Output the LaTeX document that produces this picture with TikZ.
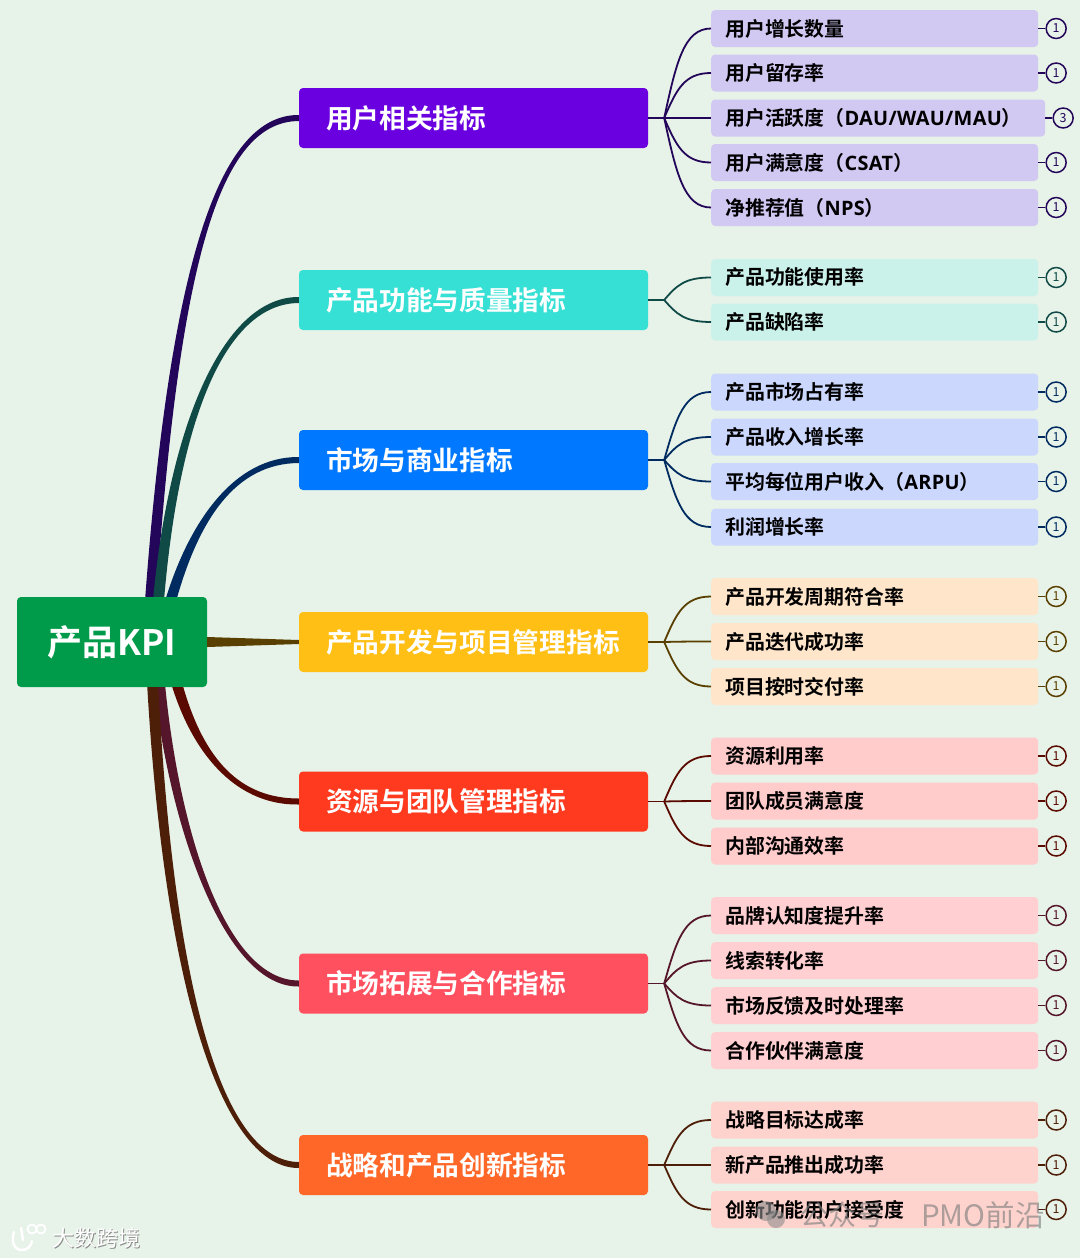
\documentclass[tikz,border=0pt]{standalone}
\usepackage{fontspec}
\setmainfont{Noto Sans CJK SC}[BoldFont=* Bold]
\newfontfamily\latf{Open Sans}[LetterSpace=1.5]
\usetikzlibrary{calc,positioning}
\definecolor{bgc}{HTML}{E7F2E8}
\definecolor{lnA}{HTML}{23065A}\definecolor{lnB}{HTML}{0F4A47}\definecolor{lnC}{HTML}{002B60}
\definecolor{lnD}{HTML}{5A4000}\definecolor{lnE}{HTML}{5A0A00}\definecolor{lnF}{HTML}{55152A}\definecolor{lnG}{HTML}{4E1F08}
\definecolor{brA}{HTML}{6A00E0}\definecolor{brB}{HTML}{36E0D4}\definecolor{brC}{HTML}{0078FF}
\definecolor{brD}{HTML}{FFBF14}\definecolor{brE}{HTML}{FF3A1F}\definecolor{brF}{HTML}{FF5060}\definecolor{brG}{HTML}{FF6728}
\definecolor{lfA}{HTML}{D2C9F3}\definecolor{lfB}{HTML}{CBF2EA}\definecolor{lfC}{HTML}{CBD7FD}
\definecolor{lfD}{HTML}{FFE6CB}\definecolor{lfE}{HTML}{FFCBCB}\definecolor{lfF}{HTML}{FFCFD2}\definecolor{lfG}{HTML}{FFD3CD}
\definecolor{HTMLroot}{HTML}{009B4A}
\tikzset{
  rootbox/.style={rectangle,rounded corners=4pt,fill=HTMLroot,text=white,font=\fontsize{35}{40}\selectfont\bfseries,minimum width=190pt,minimum height=90pt,inner sep=0pt,align=center},
  branchbox/.style={rectangle,rounded corners=4pt,text=white,font=\fontsize{26.7}{30}\selectfont\bfseries,inner xsep=27pt,inner ysep=0pt,text width=295pt,minimum height=60pt,align=left},
  leafbox/.style={rectangle,rounded corners=4pt,text=black,font=\fontsize{19.9}{23}\selectfont\bfseries,inner xsep=14pt,inner ysep=0pt,minimum height=37pt,align=left},
  countnode/.style={circle,draw,line width=1.5pt,minimum size=20pt,inner sep=0pt,font=\fontsize{12.5}{13}\selectfont},
  leafline/.style={line width=1.8pt}
}
% \taper{colour}{start}{control1}{control2}{end}{sign}
\newcommand{\taper}[6]{%
  \fill[#1] ($(#2)+(-5.5,0)$) .. controls ($(#3)+(-4.5,0)$) and ($(#4)+(0,-3.5*#6)$) .. ($(#5)+(0,-3*#6)$)
    -- ($(#5)+(0,3*#6)$) .. controls ($(#4)+(0,3.5*#6)$) and ($(#3)+(4.5,0)$) .. ($(#2)+(5.5,0)$) -- cycle;}
% \branchitem{name}{y}{text}{fill}{line}
\newcommand{\branchitem}[5]{%
  \node[branchbox,fill=#4] (#1) at (473.5,#2) {#3};
  \coordinate (#1-hub) at ([xshift=16pt]#1.east);
  \draw[leafline,#5] (#1.east) -- (#1-hub);}
% \leafitem{branch}{name}{y}{width}{text}{count}{fill}{line}
\newcommand{\leafitem}[8]{%
  \node[leafbox,fill=#7,text width=#4pt-28pt,anchor=west] (#2) at (711,#3) {#5};
  \node[countnode,draw=#8,text=#8,right=7pt of #2.east,anchor=west] (#2-n) {#6};
  \draw[leafline,#8] (#2.east) -- (#2-n.west);
  \draw[leafline,#8] (#1-hub) .. controls ($(#1-hub)!0.62!(#1-hub |- #2.west)+(12,0)$) and ($(#2.west)+(-27,0)$) .. (#2.west);}
\begin{document}
\begin{tikzpicture}[x=1pt,y=-1pt]
\useasboundingbox (0,0) rectangle (1080,1258);
\fill[bgc] (0,0) rectangle (1080,1258);

\node[rootbox] (root) at (112,642) {产品KPI};

\branchitem{a}{118}{用户相关指标}{brA}{lnA}
\branchitem{b}{300}{产品功能与质量指标}{brB}{lnB}
\branchitem{c}{460}{市场与商业指标}{brC}{lnC}
\branchitem{d}{642}{产品开发与项目管理指标}{brD}{lnD}
\branchitem{e}{801.5}{资源与团队管理指标}{brE}{lnE}
\branchitem{f}{983.5}{市场拓展与合作指标}{brF}{lnF}
\branchitem{g}{1165}{战略和产品创新指标}{brG}{lnG}

% root connectors
\coordinate (ra) at ([xshift=134pt]root.north west);
\coordinate (rb) at ([xshift=142pt]root.north west);
\coordinate (rc) at ([xshift=155pt]root.north west);
\coordinate (re) at ([xshift=161pt]root.south west);
\coordinate (rf) at ([xshift=143pt]root.south west);
\coordinate (rg) at ([xshift=136pt]root.south west);
\coordinate (ca1) at (175,260); \coordinate (ca2) at (220,118);
\coordinate (cb1) at (175,420); \coordinate (cb2) at (225,300);
\coordinate (cc1) at (195,520); \coordinate (cc2) at (235,460);
\coordinate (ce1) at (200,760); \coordinate (ce2) at (240,802);
\coordinate (cf1) at (175,830); \coordinate (cf2) at (225,984);
\coordinate (cg1) at (170,1000); \coordinate (cg2) at (225,1165);
\taper{lnA}{ra}{ca1}{ca2}{a.west}{1}
\taper{lnB}{rb}{cb1}{cb2}{b.west}{1}
\taper{lnC}{rc}{cc1}{cc2}{c.west}{1}
\fill[lnD] ($(root.east)+(0,-5)$) -- ($(d.west)+(0,-2)$) -- ($(d.west)+(0,2)$) -- ($(root.east)+(0,5)$) -- cycle;
\taper{lnF}{rf}{cf1}{cf2}{f.west}{-1}
\taper{lnG}{rg}{cg1}{cg2}{g.west}{-1}
\taper{lnE}{re}{ce1}{ce2}{e.west}{-1}

% leaves
\leafitem{a}{a1}{28.5}{327}{用户增长数量}{1}{lfA}{lnA}
\leafitem{a}{a2}{73}{327}{用户留存率}{1}{lfA}{lnA}
\leafitem{a}{a3}{118}{334}{用户活跃度（{\latf DAU/WAU/MAU}）}{3}{lfA}{lnA}
\leafitem{a}{a4}{162.5}{327}{用户满意度（{\latf CSAT}）}{1}{lfA}{lnA}
\leafitem{a}{a5}{207.5}{327}{净推荐值（{\latf NPS}）}{1}{lfA}{lnA}

\leafitem{b}{b1}{277.5}{327}{产品功能使用率}{1}{lfB}{lnB}
\leafitem{b}{b2}{322}{327}{产品缺陷率}{1}{lfB}{lnB}

\leafitem{c}{c1}{392}{327}{产品市场占有率}{1}{lfC}{lnC}
\leafitem{c}{c2}{437}{327}{产品收入增长率}{1}{lfC}{lnC}
\leafitem{c}{c3}{481.5}{327}{平均每位用户收入（{\latf ARPU}）}{1}{lfC}{lnC}
\leafitem{c}{c4}{527}{327}{利润增长率}{1}{lfC}{lnC}

\leafitem{d}{d1}{596.5}{327}{产品开发周期符合率}{1}{lfD}{lnD}
\leafitem{d}{d2}{641.5}{327}{产品迭代成功率}{1}{lfD}{lnD}
\leafitem{d}{d3}{686.5}{327}{项目按时交付率}{1}{lfD}{lnD}

\leafitem{e}{e1}{756}{327}{资源利用率}{1}{lfE}{lnE}
\leafitem{e}{e2}{801}{327}{团队成员满意度}{1}{lfE}{lnE}
\leafitem{e}{e3}{846}{327}{内部沟通效率}{1}{lfE}{lnE}

\leafitem{f}{f1}{915.5}{327}{品牌认知度提升率}{1}{lfF}{lnF}
\leafitem{f}{f2}{960.5}{327}{线索转化率}{1}{lfF}{lnF}
\leafitem{f}{f3}{1005.5}{327}{市场反馈及时处理率}{1}{lfF}{lnF}
\leafitem{f}{f4}{1050.5}{327}{合作伙伴满意度}{1}{lfF}{lnF}

\leafitem{g}{g1}{1120}{327}{战略目标达成率}{1}{lfG}{lnG}
\leafitem{g}{g2}{1165}{327}{新产品推出成功率}{1}{lfG}{lnG}
\leafitem{g}{g3}{1209.5}{327}{创新功能用户接受度}{1}{lfG}{lnG}

% watermarks
\fill[black!45,opacity=.6] (766,1211) circle (10pt);
\fill[black!45,opacity=.6] (776,1219) circle (9pt);
\node[anchor=west,inner sep=0pt,text=black!50,opacity=.65,font=\fontsize{28}{30}\selectfont] (wm1) at (800,1215) {公众号};
\node[anchor=west,inner sep=0pt,text=black!50,opacity=.65,font=\fontsize{29.5}{30}\selectfont] (wm2) at (921,1215) {PMO前沿};
\node[anchor=west,inner sep=0pt,text=black!45,font=\fontsize{22}{24}\selectfont] (wm3s) at (53,1239) {大数跨境};
\node[anchor=west,inner sep=0pt,text=white,font=\fontsize{22}{24}\selectfont] (wm3) at (52,1238) {大数跨境};
\draw[white,line width=2.5pt,line cap=round] (14,1232) .. controls (11,1242) and (14,1250) .. (22,1250) .. controls (28,1250) and (31,1246) .. (32,1241);
\draw[white,line width=2.5pt,line cap=round] (21,1228) -- (23,1240);
\draw[white,line width=1.8pt] (32,1229) circle (4.5pt) (41,1229) circle (4.5pt);
\end{tikzpicture}
\end{document}
